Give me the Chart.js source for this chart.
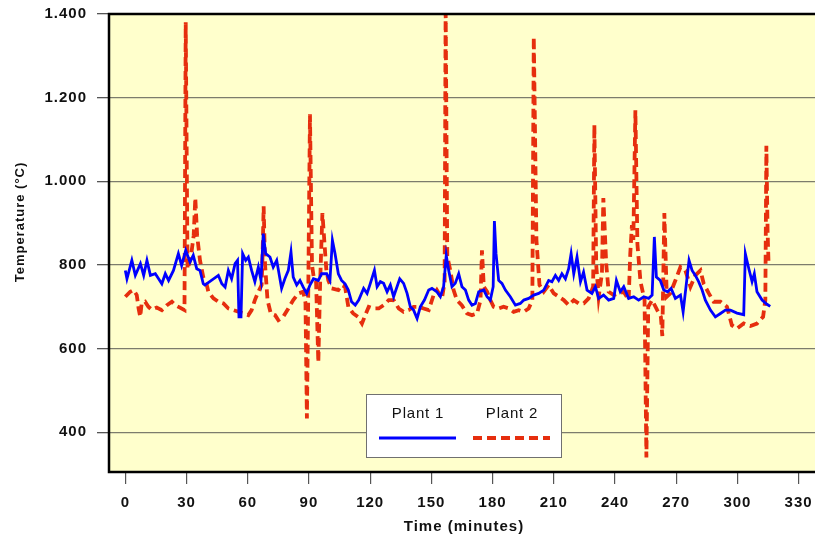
<!DOCTYPE html>
<html>
<head>
<meta charset="utf-8">
<script src="https://cdn.jsdelivr.net/npm/chart.js@4"></script>
<style>
  html, body { margin: 0; padding: 0; background: #fff; }
  #wrap { width: 815px; height: 541px; overflow: hidden; position: relative; }
  canvas { display: block; }
</style>
</head>
<body>
<div id="wrap"><canvas id="tempChart" width="830" height="541"></canvas></div>
<script>
// readings (minutes, °C)
const plant1Minutes = [0, 0.8, 3.2, 4.9, 7.4, 9, 10.6, 12.3, 14.7, 16.3, 17.9, 19.6, 21.2, 23.6, 26, 27.6, 29.6, 31.7, 33.3, 35, 36.6, 38.2, 39, 45.6, 47.3, 48.9, 50.5, 52.1, 53.8, 55, 55.7, 56.7, 57.5, 59, 60.3, 61.9, 63.5, 65.2, 66.5, 67.6, 68.8, 70.9, 72.5, 74.2, 76.6, 78.2, 79.9, 81.2, 82.3, 84, 85.6, 87.2, 88.9, 90.5, 92.2, 94.6, 96.2, 98.7, 100.3, 101.5, 102.8, 104.4, 106, 107.7, 109.3, 110.9, 112.7, 114.4, 116.8, 118.5, 120.1, 122.1, 123.4, 125, 126.6, 128.3, 129.9, 131.5, 134.5, 136.4, 138.1, 139.7, 141.3, 143, 144.6, 146.6, 148.7, 150.3, 152.7, 154.4, 156, 157.3, 158.5, 160.1, 161.7, 163.4, 165, 166.7, 168.3, 169.9, 171.6, 173.2, 175.7, 177.3, 178.9, 180.3, 180.9, 181.7, 183, 184.6, 186.3, 188.7, 191.2, 193.6, 195.3, 197.7, 200.2, 202.6, 205.1, 207.5, 209.1, 210.8, 212.4, 214, 215.7, 217.3, 218.5, 219.8, 221.4, 223.1, 224.6, 226.3, 228.7, 230.4, 232, 234.4, 236.9, 239.4, 240.7, 242.6, 244.3, 246.7, 249.2, 251.6, 254.1, 256.5, 258.2, 259.3, 260.3, 262.2, 263.9, 265.8, 267.5, 269.6, 272.1, 273.4, 275, 276.3, 277.8, 279.4, 281, 282.7, 284.3, 286.8, 289.2, 291.7, 294.1, 296.6, 299.8, 303.1, 303.9, 305.6, 307.2, 308.3, 309.6, 312.1, 314.5, 316.1];
const plant1Temps = [787, 767, 811, 775, 803, 775, 811, 775, 779, 767, 755, 779, 763, 787, 827, 799, 835, 807, 823, 791, 787, 755, 752, 775, 755, 747, 787, 767, 803, 811, 676, 676, 827, 811, 819, 787, 760, 795, 763, 875, 827, 819, 795, 811, 744, 767, 787, 831, 771, 752, 763, 747, 732, 752, 767, 763, 779, 779, 763, 859, 827, 779, 763, 755, 740, 712, 704, 716, 744, 732, 756, 787, 748, 760, 756, 736, 752, 724, 767, 756, 732, 700, 692, 672, 700, 716, 740, 744, 736, 724, 748, 823, 787, 748, 756, 779, 748, 740, 716, 704, 708, 736, 740, 724, 716, 748, 905, 827, 763, 756, 740, 724, 704, 708, 716, 720, 728, 732, 740, 763, 760, 775, 763, 779, 767, 791, 827, 779, 819, 760, 783, 740, 732, 748, 720, 728, 716, 720, 763, 736, 748, 720, 724, 716, 724, 720, 728, 867, 771, 763, 740, 736, 744, 720, 728, 688, 756, 811, 787, 775, 760, 740, 716, 692, 676, 684, 692, 692, 685, 681, 827, 791, 760, 779, 736, 716, 706, 701];

const plant2Minutes = [0, 2.4, 4, 5.6, 6.5, 7.3, 8, 9.7, 11.3, 12.9, 15.4, 17.9, 20.4, 22.8, 24.4, 26.8, 29, 29.6, 30.5, 32, 33.5, 34.3, 35.2, 36.6, 38.2, 39.8, 40.7, 43.2, 45.6, 48.1, 50.5, 53, 55.5, 58, 60.3, 61.9, 63.5, 65.2, 66.8, 67.3, 67.8, 68.5, 69.7, 71.3, 73.4, 75, 77.4, 79.9, 82.3, 84.8, 87.2, 88.3, 89, 89.6, 90.5, 91.5, 92.5, 93.5, 94.6, 95.5, 96.6, 97.5, 98.5, 99.5, 101.1, 104.4, 106, 107.7, 109.3, 111.7, 114, 116, 117.6, 119.3, 121.7, 124.2, 126.6, 129.1, 131.5, 134, 136.4, 138.9, 141.3, 143.8, 146.2, 148.7, 151.1, 152.7, 155.2, 156.5, 157, 157.8, 159.3, 160.9, 162.5, 164.9, 167.5, 169.9, 172.4, 174.1, 174.8, 175.7, 177.3, 178.9, 180.5, 183, 185.4, 187.9, 190.3, 192.8, 195.3, 197.7, 199.5, 200.2, 201.5, 203, 205.1, 207.5, 210, 212.4, 214.9, 217.3, 219.8, 222.2, 224.7, 227.1, 229.3, 229.9, 230.8, 232, 233.6, 234.3, 235.7, 236.9, 239.4, 241.8, 244.3, 246.7, 247.5, 248.3, 249, 250, 251, 252.5, 254.5, 255.4, 256.3, 258.2, 260.7, 262.5, 263.2, 264.2, 265.4, 267.1, 269.6, 272.1, 274.5, 277, 279.4, 281.9, 283.5, 286, 288.4, 291.7, 294.9, 297.3, 299.8, 303.1, 306.4, 309.6, 312.6, 313.7, 314.2, 314.8, 315.3];
const plant2Temps = [724, 736, 740, 728, 696, 676, 708, 712, 700, 693, 698, 692, 704, 712, 704, 698, 692, 1380, 790, 815, 870, 960, 870, 811, 771, 755, 736, 720, 712, 708, 696, 692, 688, 684, 680, 692, 716, 736, 752, 830, 940, 800, 716, 684, 680, 668, 676, 696, 716, 732, 736, 710, 433, 700, 1160, 800, 765, 760, 567, 760, 924, 860, 790, 763, 744, 740, 752, 748, 700, 684, 676, 660, 680, 700, 696, 696, 704, 716, 716, 696, 688, 692, 700, 700, 696, 692, 728, 740, 720, 760, 1420, 820, 787, 740, 716, 704, 684, 680, 684, 716, 835, 748, 736, 716, 700, 696, 700, 696, 688, 692, 688, 696, 716, 1345, 860, 752, 736, 752, 732, 724, 716, 704, 716, 708, 708, 720, 748, 1135, 800, 724, 779, 960, 803, 736, 728, 732, 736, 716, 827, 895, 860, 1170, 850, 760, 716, 340, 700, 716, 692, 676, 630, 924, 724, 732, 763, 795, 787, 748, 775, 787, 755, 732, 712, 712, 700, 656, 648, 660, 654, 660, 676, 716, 1085, 880, 800];

const xTicks = [0, 30, 60, 90, 120, 150, 180, 210, 240, 270, 300, 330];
const yTicks = [400, 600, 800, 1000, 1200, 1400];
const seriesNames = ['Plant 1', 'Plant 2'];
const yTitle = 'Temperature (°C)';

const FONT = '"Liberation Sans", Arial, sans-serif';

function toPoints(xs, ys) {
    return xs.map((x, i) => ({x: x, y: ys[i]}));
}

// the original's axis text is spaced out a bit; canvas resets drop this, so set it each pass
const spacing = {
    id: 'spacing',
    beforeUpdate(chart) { chart.ctx.letterSpacing = '1px'; },
    beforeDraw(chart) { chart.ctx.letterSpacing = '1px'; }
};

// yellow plot background and black frame round the plot area
const frame = {
    id: 'frame',
    beforeDraw(chart) {
        const {ctx, chartArea: a} = chart;
        ctx.save();
        ctx.fillStyle = '#ffffcc';
        ctx.fillRect(a.left, a.top, a.right - a.left, a.bottom - a.top);
        ctx.restore();
    },
    afterDatasetsDraw(chart) {
        const {ctx, chartArea: a} = chart;
        ctx.save();
        ctx.strokeStyle = '#000';
        ctx.lineWidth = 2.5;
        ctx.strokeRect(a.left, a.top, a.right - a.left, a.bottom - a.top);
        ctx.restore();
    }
};

// the y title sits a little above the middle of the axis in the original
const sideTitle = {
    id: 'sideTitle',
    afterDraw(chart) {
        const ctx = chart.ctx;
        ctx.save();
        ctx.translate(20, 222);
        ctx.rotate(-Math.PI / 2);
        ctx.font = 'bold 13px ' + FONT;
        ctx.letterSpacing = '1px';
        ctx.fillStyle = '#111';
        ctx.textAlign = 'center';
        ctx.textBaseline = 'middle';
        ctx.fillText(yTitle, 0, 0);
        ctx.restore();
    }
};

// boxed legend inside the plot, text above the line sample
const boxLegend = {
    id: 'boxLegend',
    afterDraw(chart) {
        const ctx = chart.ctx;
        const x0 = 366, y0 = 394, w = 195, h = 63;
        ctx.save();
        ctx.fillStyle = '#fff';
        ctx.fillRect(x0, y0, w, h);
        ctx.strokeStyle = '#707070';
        ctx.lineWidth = 1;
        ctx.strokeRect(x0 + 0.5, y0 + 0.5, w, h);
        ctx.font = '15px ' + FONT;
        ctx.letterSpacing = '0.8px';
        ctx.fillStyle = '#111';
        ctx.textAlign = 'center';
        ctx.textBaseline = 'middle';
        const centers = [418, 512];
        chart.data.datasets.forEach((ds, i) => {
            ctx.fillText(ds.label, centers[i], y0 + 20);
            ctx.beginPath();
            ctx.strokeStyle = ds.borderColor;
            ctx.lineWidth = ds.borderWidth;
            ctx.setLineDash(ds.borderDash || []);
            ctx.moveTo(centers[i] - 39, y0 + 44);
            ctx.lineTo(centers[i] + 38, y0 + 44);
            ctx.stroke();
        });
        ctx.restore();
    }
};

const ctx = document.getElementById('tempChart').getContext('2d');

new Chart(ctx, {
    type: 'line',
    data: {
        datasets: [{
            label: seriesNames[0],
            data: toPoints(plant1Minutes, plant1Temps),
            borderColor: '#0000ff',
            borderWidth: 2.8,
            pointRadius: 0,
            tension: 0
        }, {
            label: seriesNames[1],
            data: toPoints(plant2Minutes, plant2Temps),
            borderColor: '#e62e0e',
            borderWidth: 3.8,
            borderDash: [9, 5],
            pointRadius: 0,
            tension: 0
        }]
    },
    options: {
        responsive: false,
        animation: false,
        layout: {padding: {top: 14, right: 11, left: 0, bottom: 0}},
        plugins: {legend: {display: false}, tooltip: {enabled: false}},
        scales: {
            x: {
                type: 'linear',
                min: -8,
                max: 340,
                afterBuildTicks: scale => { scale.ticks = xTicks.map(v => ({value: v})); },
                afterFit: scale => { scale.height = 69; scale.paddingLeft = 0; scale.paddingRight = 0; },
                border: {display: false},
                grid: {drawOnChartArea: false, drawTicks: true, tickLength: 12, color: '#555', lineWidth: 1.2},
                ticks: {padding: 10, color: '#111', font: {family: FONT, size: 15, weight: 'bold'}, maxRotation: 0},
                title: {display: true, text: 'Time (minutes)', color: '#111', padding: {top: 0, bottom: 5},
                        font: {family: FONT, size: 15, weight: 'bold'}}
            },
            y: {
                min: 305,
                max: 1400,
                afterBuildTicks: scale => { scale.ticks = yTicks.map(v => ({value: v})); },
                afterFit: scale => { scale.width = 109; scale.paddingTop = 0; scale.paddingBottom = 0; },
                border: {display: false},
                grid: {color: '#7c7c6c', lineWidth: 1.3, tickLength: 12, tickColor: '#555'},
                ticks: {
                    padding: 10, color: '#111', font: {family: FONT, size: 15, weight: 'bold'},
                    callback: v => v.toLocaleString('de-DE')
                },
                title: {display: false}
            }
        }
    },
    plugins: [spacing, frame, sideTitle, boxLegend]
});
</script>
</body>
</html>
